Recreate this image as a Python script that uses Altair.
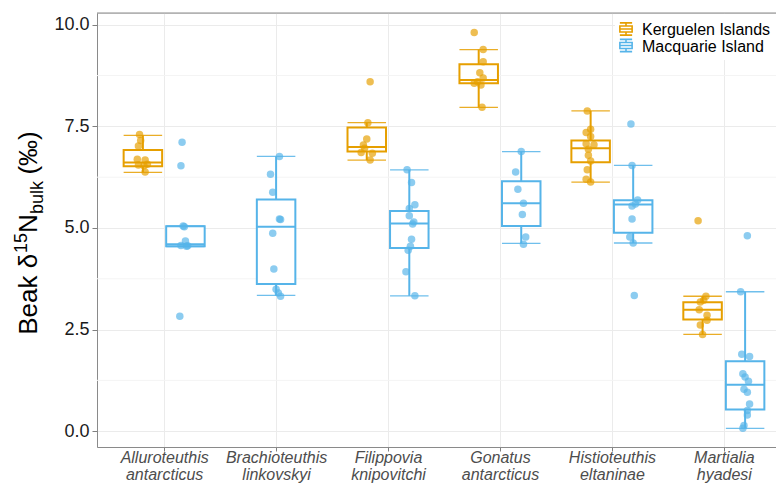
import altair as alt
import pandas as pd

# ---------------- data ----------------
species = ["Alluroteuthis antarcticus", "Brachioteuthis linkovskyi", "Filippovia knipovitchi",
           "Gonatus antarcticus", "Histioteuthis eltaninae", "Martialia hyadesi"]
site_names = ["Kerguelen Islands", "Macquarie Island"]
site_colors = ["#E69F00", "#56B4E9"]

# box-plot summaries (one entry per species/site group)
box_species = ["Alluroteuthis antarcticus", "Alluroteuthis antarcticus", "Brachioteuthis linkovskyi",
               "Filippovia knipovitchi", "Filippovia knipovitchi", "Gonatus antarcticus", "Gonatus antarcticus",
               "Histioteuthis eltaninae", "Histioteuthis eltaninae", "Martialia hyadesi", "Martialia hyadesi"]
box_site = ["Kerguelen Islands", "Macquarie Island", "Macquarie Island", "Kerguelen Islands", "Macquarie Island",
            "Kerguelen Islands", "Macquarie Island", "Kerguelen Islands", "Macquarie Island",
            "Kerguelen Islands", "Macquarie Island"]
box_lower = [6.37, 4.54, 3.34, 6.67, 3.33, 7.97, 4.62, 6.13, 4.63, 2.38, 0.07]
box_q1 = [6.52, 4.55, 3.62, 6.88, 4.51, 8.56, 5.05, 6.62, 4.88, 2.75, 0.53]
box_median = [6.61, 4.60, 5.03, 6.99, 5.11, 8.64, 5.61, 6.96, 5.58, 2.99, 1.14]
box_q3 = [6.92, 5.04, 5.70, 7.47, 5.42, 9.03, 6.15, 7.15, 5.68, 3.17, 1.72]
box_upper = [7.28, 5.05, 6.76, 7.59, 6.43, 9.39, 6.88, 7.88, 6.54, 3.32, 3.43]

# individual samples (value) and their horizontal jitter (in category units)
alluro_k = [7.30, 7.15, 7.02, 6.69, 6.67, 6.55, 6.53, 6.57, 6.38]
alluro_k_jit = [-0.03, -0.02, -0.04, -0.05, 0.02, -0.04, 0.01, 0.04, 0.02]
alluro_m = [7.11, 6.53, 5.05, 5.03, 4.68, 4.57, 4.55, 4.56, 2.83]
alluro_m_jit = [-0.03, -0.04, -0.02, -0.01, 0.00, -0.04, 0.01, 0.02, -0.05]
brachio_m = [6.76, 6.32, 5.88, 5.22, 5.21, 4.87, 3.99, 3.49, 3.40, 3.32]
brachio_m_jit = [0.03, -0.05, -0.03, 0.03, 0.04, -0.03, -0.02, 0.00, 0.02, 0.04]
filip_k = [8.60, 7.59, 7.19, 7.04, 6.96, 6.86, 6.84, 6.67]
filip_k_jit = [0.03, 0.01, 0.00, -0.03, -0.02, -0.05, 0.05, 0.03]
filip_m = [6.43, 6.12, 5.57, 5.48, 5.30, 5.15, 5.10, 4.72, 4.55, 4.45, 3.92, 3.33]
filip_m_jit = [-0.02, 0.02, 0.05, 0.00, 0.00, 0.04, 0.03, 0.02, 0.01, -0.01, -0.03, 0.05]
gonatus_k = [9.81, 9.39, 9.09, 8.82, 8.69, 8.60, 8.56, 8.52, 7.97]
gonatus_k_jit = [-0.04, 0.04, 0.04, 0.01, 0.04, -0.01, -0.04, 0.02, 0.03]
gonatus_m = [6.88, 6.38, 5.95, 5.61, 5.33, 4.78, 4.60]
gonatus_m_jit = [0.00, -0.05, -0.03, 0.02, 0.01, 0.04, 0.02]
histio_k = [7.88, 7.43, 7.35, 7.25, 7.07, 7.05, 6.94, 6.79, 6.65, 6.43, 6.20, 6.13]
histio_k_jit = [-0.03, 0.00, -0.04, 0.00, -0.04, 0.03, -0.02, -0.02, 0.00, -0.03, -0.04, 0.00]
histio_m = [7.56, 6.54, 5.69, 5.59, 5.54, 5.22, 4.78, 4.63, 3.34]
histio_m_jit = [-0.02, -0.01, 0.04, 0.02, -0.01, -0.01, -0.03, 0.00, 0.01]
martialia_k = [5.18, 3.32, 3.22, 3.18, 2.99, 2.85, 2.73, 2.61, 2.38]
martialia_k_jit = [-0.04, 0.03, 0.01, -0.02, -0.03, 0.04, 0.04, -0.02, 0.00]
martialia_m = [4.81, 3.43, 1.89, 1.84, 1.41, 1.33, 1.23, 1.03, 0.96, 0.67, 0.51, 0.40, 0.14, 0.07]
martialia_m_jit = [0.02, -0.04, -0.03, 0.04, -0.02, 0.00, 0.03, -0.01, 0.02, 0.04, 0.02, 0.02, -0.01, -0.02]

y_ticks = [0, 2.5, 5, 7.5, 10]
y_minor = [1.25, 3.75, 6.25, 8.75]

# ---------------- build tables ----------------
DODGE = 0.19
HALF = 0.172
groups_per_species = {s: box_species.count(s) for s in species}


def centre(sp, site):
    i = species.index(sp)
    if groups_per_species[sp] == 1:
        return i
    return i - DODGE if site == site_names[0] else i + DODGE


boxes = pd.DataFrame({"species": box_species, "site": box_site, "lower": box_lower, "q1": box_q1,
                      "median": box_median, "q3": box_q3, "upper": box_upper})
boxes["xc"] = [centre(s, t) for s, t in zip(boxes.species, boxes.site)]
boxes["xl"] = boxes.xc - HALF
boxes["xr"] = boxes.xc + HALF

point_groups = [
    ("Alluroteuthis antarcticus", "Kerguelen Islands", alluro_k, alluro_k_jit),
    ("Alluroteuthis antarcticus", "Macquarie Island", alluro_m, alluro_m_jit),
    ("Brachioteuthis linkovskyi", "Macquarie Island", brachio_m, brachio_m_jit),
    ("Filippovia knipovitchi", "Kerguelen Islands", filip_k, filip_k_jit),
    ("Filippovia knipovitchi", "Macquarie Island", filip_m, filip_m_jit),
    ("Gonatus antarcticus", "Kerguelen Islands", gonatus_k, gonatus_k_jit),
    ("Gonatus antarcticus", "Macquarie Island", gonatus_m, gonatus_m_jit),
    ("Histioteuthis eltaninae", "Kerguelen Islands", histio_k, histio_k_jit),
    ("Histioteuthis eltaninae", "Macquarie Island", histio_m, histio_m_jit),
    ("Martialia hyadesi", "Kerguelen Islands", martialia_k, martialia_k_jit),
    ("Martialia hyadesi", "Macquarie Island", martialia_m, martialia_m_jit),
]
rows = []
for sp, site, vals, jits in point_groups:
    c = centre(sp, site)
    for v, j in zip(vals, jits):
        rows.append({"species": sp, "site": site, "value": v, "x": c + j})
points = pd.DataFrame(rows)

# ---------------- scales / axes ----------------
W, H = 679, 434
BORDER = "#8a8a8a"
xs = alt.Scale(domain=[-0.6, 5.466], nice=False, zero=False)
ys = alt.Scale(domain=[-0.39, 10.29], nice=False, zero=False)
cs = alt.Scale(domain=site_names, range=site_colors)

label_arr = "[" + ",".join("['%s','%s']" % tuple(s.split(" ")) for s in species) + "]"
x_axis = alt.Axis(values=list(range(len(species))), labelExpr=label_arr + "[datum.value]",
                  title=None, domain=True, domainColor=BORDER, domainWidth=1, grid=True,
                  gridColor="#EBEBEB", gridWidth=1,
                  ticks=True, tickColor="#7f7f7f", tickSize=4, labelFontStyle="italic",
                  labelFontSize=16, labelColor="#4D4D4D", labelPadding=-2, labelLineHeight=17,
                  labelBaseline="top", labelAngle=0, labelFlush=False, labelOverlap=False,
                  labelFont="Liberation Sans")
y_axis = alt.Axis(values=y_ticks, format=".1f", title=None, domain=True, domainColor=BORDER,
                  domainWidth=1, grid=True,
                  gridColor="#EBEBEB", gridWidth=1, ticks=True, tickColor="#7f7f7f", tickSize=5,
                  labelFontSize=18, labelColor="#1a1a1a", labelPadding=3, labelFont="Liberation Sans")


def X(field):
    return alt.X(field, type="quantitative", scale=xs, axis=x_axis)


def Y(field):
    return alt.Y(field, type="quantitative", scale=ys, axis=y_axis)


col = alt.Color("site:N", scale=cs, legend=None)

minor = alt.Chart(pd.DataFrame({"v": y_minor})).mark_rule(color="#F4F4F4", strokeWidth=1).encode(
    y=Y("v"))

base = alt.Chart(boxes)
caps_lo = base.mark_rule(strokeWidth=1.3, opacity=0.85).encode(x=X("xl"), x2="xr", y=Y("lower"), color=col)
caps_hi = base.mark_rule(strokeWidth=1.3, opacity=0.85).encode(x=X("xl"), x2="xr", y=Y("upper"), color=col)
wh_lo = base.mark_rule(strokeWidth=2).encode(x=X("xc"), y=Y("lower"), y2="q1", color=col)
wh_hi = base.mark_rule(strokeWidth=2).encode(x=X("xc"), y=Y("q3"), y2="upper", color=col)
box = base.mark_rect(fill="white", strokeWidth=2).encode(
    x=X("xl"), x2="xr", y=Y("q1"), y2="q3", stroke=alt.Stroke("site:N", scale=cs, legend=None))
med = base.mark_rule(strokeWidth=2).encode(x=X("xl"), x2="xr", y=Y("median"), color=col)

pts = alt.Chart(points).mark_circle(size=56, opacity=0.68).encode(x=X("x"), y=Y("value"), color=col)

# ---------------- legend (inside, top right) ----------------
glyph = ("M-1,-1H1M-1,1H1M0,-1V-0.5M0,0.5V1M-1,-0.5H1V0.5H-1ZM-1,0H1")
leg_bg = alt.Chart(pd.DataFrame({"a": [0]})).mark_rect(fill="white").encode(
    x=alt.value(518), x2=alt.value(W), y=alt.value(1), y2=alt.value(47))
leg_layers = [leg_bg]
for k, (name, c) in enumerate(zip(site_names, site_colors)):
    d = pd.DataFrame({"label": [name]})
    leg_layers.append(alt.Chart(d).mark_point(shape=glyph, filled=False, size=150, strokeWidth=1.6,
                                              color=c, opacity=1).encode(
        x=alt.value(529), y=alt.value(16 + 16.5 * k)))
    leg_layers.append(alt.Chart(d).mark_text(align="left", baseline="alphabetic", fontSize=16,
                                             font="Liberation Sans", color="black").encode(
        text="label:N", x=alt.value(545), y=alt.value(22 + 16.5 * k)))

top_border = alt.Chart(pd.DataFrame({"a": [0]})).mark_rule(color=BORDER, strokeWidth=1).encode(
    x=alt.value(0), x2=alt.value(W), y=alt.value(0))

# ---------------- y-axis title with super/subscripts ----------------
FB, FS = 26, 18
title_parts = [("Beak δ", FB, 0, 3.15 * FB), ("15", FS, -10, 1.112 * FS), ("N", FB, 0, 0.722 * FB),
               ("bulk", FS, 6, 1.834 * FS + 0.25 * FB), ("(‰)", FB, 0, 1.9 * FB)]
total = sum(p[3] for p in title_parts)
ypos = H / 2 + total / 2
base_x = -60
title_layers = []
for txt, fs, dx, w in title_parts:
    title_layers.append(alt.Chart(pd.DataFrame({"t": [txt]})).mark_text(
        align="left", baseline="alphabetic", angle=270, fontSize=fs, font="Liberation Sans",
        color="black").encode(text="t:N", x=alt.value(base_x + dx), y=alt.value(ypos)))
    ypos -= w

chart = alt.layer(minor, caps_lo, caps_hi, wh_lo, wh_hi, box, med, pts, *leg_layers, top_border,
                  *title_layers).properties(
    width=W, height=H, autosize=alt.AutoSizeParams(type="none"),
    padding={"left": 89, "top": 5, "right": 0, "bottom": 37}
).configure_view(stroke=None).configure(background="white")

chart.save("out.html", embed_options={"renderer": "svg", "actions": False})
